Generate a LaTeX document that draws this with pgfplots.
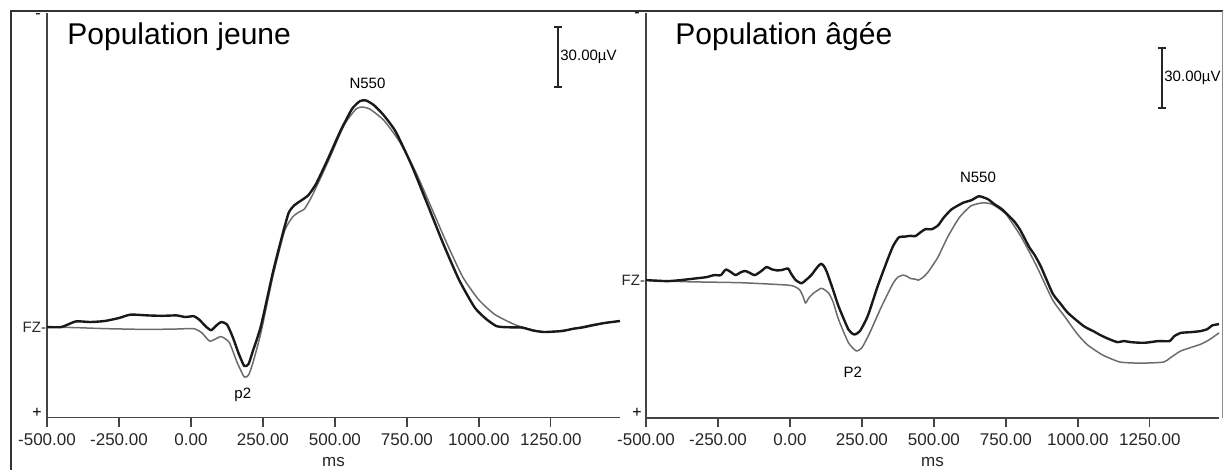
\documentclass[border=0pt]{standalone}
\usepackage{pgfplots}
\pgfplotsset{compat=1.18}
\usepackage{fontspec}
\setmainfont{Liberation Sans}

\definecolor{curvegray}{HTML}{6C6C6C}
\definecolor{axisgray}{HTML}{444444}

\pgfplotsset{
  erp/.style={
    scale only axis,
    width=286.5pt, height=202.3pt,
    axis x line=bottom, axis y line=left,
    axis line style={-, axisgray, line width=0.6pt},
    xmin=-500, xmax=1490,
    y dir=reverse,
    xtick={-500,-250,...,1250},
    tick align=outside,
    major tick length=4.5pt,
    xtick style={axisgray, line width=0.6pt},
    xticklabel style={font=\fontsize{8.5}{9}\selectfont, text=black!85,
      /pgf/number format/.cd, fixed, fixed zerofill, precision=2,
      1000 sep={}, assume math mode=true},
    ytick={0}, yticklabels={FZ-},
    ytick style={draw=none},
    yticklabel style={font=\fontsize{7.5}{8}\selectfont, inner sep=0.3pt, text=black!85, xshift=4.5pt},
    xlabel={ms},
    xlabel style={font=\fontsize{8.5}{9}\selectfont, text=black!85, yshift=1pt},
    clip=false,
  },
  blk/.style={black!90, line width=1.2pt, line join=round, smooth, tension=0.35},
  gry/.style={curvegray, line width=0.75pt, line join=round, smooth, tension=0.35},
}

\begin{document}
\begin{tikzpicture}
\useasboundingbox (0,0) rectangle (611.5pt,235pt);

% left panel: young population
\begin{axis}[erp, at={(23.5pt,26.15pt)}, anchor=south west, ymin=-157, ymax=45.35]
\addplot[gry] coordinates {
(-500,0) (-400,0.3) (-300,0.8) (-156,1.2) (-50,1) (9,0.8) (37,2.8) (64,7) (85,6)
(105,4.8) (133,7.7) (160,17.6) (185,25) (200,24) (215,18) (243,2.8) (284,-25)
(325,-48) (353,-55) (375,-57.5) (394,-59) (422,-66) (477,-83) (532,-101) (573,-109)
(594,-110) (621,-109) (669,-103.5) (724,-92.8) (779,-78) (834,-60) (889,-41.7)
(944,-25) (999,-13.7) (1055,-6.3) (1123,-1.3) (1178,1.2) (1234,2.5) (1316,1.2)
(1399,-1.3) (1490,-3)};
\addplot[blk] coordinates {
(-500,0) (-450,0) (-400,-2.8) (-350,-2.5) (-300,-3) (-250,-4.5) (-210,-6.2) (-150,-5.8)
(-100,-5.6) (-50,-5.8) (-20,-5) (10,-5.4) (30,-3.5) (50,-0.5) (70,1.6) (90,-1)
(105,-2.5) (125,-1.3) (145,5) (165,13) (185,19.5) (200,18.5) (215,12) (243,-0.5)
(284,-27) (312,-43) (339,-57) (360,-61) (380,-63) (408,-66) (436,-72) (477,-84.5)
(518,-97.7) (559,-109) (587,-113) (608,-113.3) (635,-111) (669,-106) (711,-97.7)
(766,-81) (821,-61.5) (876,-41.7) (931,-23.6) (986,-9.6) (1027,-3.8) (1060,-0.5)
(1082,0) (1120,0.2) (1151,0.3) (1190,1.8) (1227,2.5) (1289,2) (1330,0.8) (1357,0.3)
(1400,-1) (1440,-2.1) (1490,-3)};
\node[font=\fontsize{7.5}{8}\selectfont] at (axis cs:613,-121.9) {N550};
\node[font=\fontsize{7.5}{8}\selectfont] at (axis cs:180,34) {p2};
\end{axis}

% right panel: elderly population
\begin{axis}[erp, at={(323pt,26pt)}, anchor=south west, ymin=-133.5, ymax=69]
\addplot[gry] coordinates {
(-500,0) (-358,0.8) (-169,1.3) (-7,2.5) (20,3.5) (34,4.9) (45,8) (54,11.5) (65,9)
(81,6.6) (108,4.1) (120,4.8) (135,6.6) (150,11) (169,19.8) (203,31.3) (230,35.4)
(250,33.8) (277,26.4) (318,13.2) (358,1.6) (375,-1.5) (392,-2.5) (405,-2) (419,-0.8)
(435,-0.5) (446,0) (463,-1.5) (480,-4.1) (514,-11.5) (547,-21.4) (588,-31.3)
(628,-37.1) (669,-38.7) (703,-37.9) (750,-33) (804,-21.4) (858,-6.6) (912,9.9)
(953,18) (998,27) (1034,32.5) (1080,37) (1101,38.5) (1146,41) (1200,41.5) (1237,41.5)
(1298,41) (1320,39) (1358,35.4) (1426,32.1) (1460,29.5) (1490,26.4)};
\addplot[blk] coordinates {
(-500,0) (-426,0.5) (-380,0) (-331,-0.8) (-290,-1.5) (-264,-2.5) (-240,-2.5) (-223,-5.3)
(-205,-4) (-189,-2.5) (-170,-4) (-155,-4.6) (-138,-3.5) (-122,-2.5) (-100,-4.5)
(-81,-6.6) (-65,-5.5) (-47,-4.9) (-30,-5) (-7,-5.8) (5,-3) (20,0) (40,1.6) (55,0)
(74,-2.5) (95,-6.5) (108,-8.2) (118,-7) (128,-4.1) (150,5) (169,13.2) (203,24.7)
(223,27.2) (243,25.5) (270,18) (304,3.3) (338,-9.9) (358,-17) (378,-21.4) (400,-21.8)
(419,-22.2) (435,-22) (453,-23.9) (470,-25.5) (493,-25.5) (515,-27.5) (534,-31.3)
(561,-35.4) (601,-38.7) (630,-40) (655,-42) (670,-41.5) (689,-40.4) (710,-38)
(737,-35.4) (777,-29.7) (800,-25) (831,-16.5) (850,-12.5) (872,-6.6) (912,6.6)
(939,11.7) (966,16.5) (1020,23) (1057,25.8) (1074,27.2) (1100,29) (1136,31) (1160,30.5)
(1182,31) (1210,31.3) (1237,31.3) (1280,30.5) (1318,30.5) (1335,28) (1358,26.4)
(1395,26) (1426,25.5) (1450,24.5) (1466,22.7) (1490,22)};
\node[font=\fontsize{7.5}{8}\selectfont] at (axis cs:653,-51.6) {N550};
\node[font=\fontsize{7.5}{8}\selectfont] at (axis cs:218,46) {P2};
\end{axis}

% decorations in pixel units of the reference (origin top left)
\begin{scope}[x=0.5pt, y=-0.5pt, shift={(0pt,235pt)}]
\node[anchor=base west, font=\fontsize{15}{16}\selectfont, inner sep=0pt] at (67,45) {Population jeune};
\node[anchor=base west, font=\fontsize{15}{16}\selectfont, inner sep=0pt] at (675,45) {Population âgée};

\draw[black!85, line width=0.6pt] (558,27) -- (558,87) (554,27) -- (562,27) (554,87) -- (562,87);
\node[anchor=west, inner sep=1pt, font=\fontsize{7.5}{8}\selectfont] at (558,57) {30.00µV};
\draw[black!85, line width=0.6pt] (1162,48) -- (1162,108) (1158,48) -- (1166,48) (1158,108) -- (1166,108);
\node[anchor=west, inner sep=1pt, font=\fontsize{7.5}{8}\selectfont] at (1162,78) {30.00µV};

\node[font=\fontsize{8}{8}\selectfont] at (38,16) {-};
\node[font=\fontsize{8}{8}\selectfont] at (37,413) {+};
\node[font=\fontsize{8}{8}\selectfont] at (637,15) {-};
\node[font=\fontsize{8}{8}\selectfont] at (637,413) {+};

\draw[black!80, line width=1.4pt] (11,470) -- (11,11) -- (1223,11);
\draw[black!45, line width=0.5pt] (1222,11) -- (1222,418);
\end{scope}
\end{tikzpicture}
\end{document}
